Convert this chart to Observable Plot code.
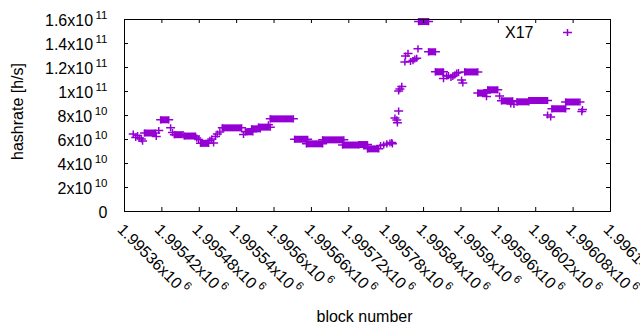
<!DOCTYPE html>
<html><head><meta charset="utf-8">
<script src="https://cdn.jsdelivr.net/npm/d3@7"></script>
<script src="https://cdn.jsdelivr.net/npm/@observablehq/plot@0.6"></script>
<style>
body{margin:0;background:#fff;}
svg{font-family:"Liberation Sans",Arial,sans-serif;}
</style></head><body><div id="chart"></div>
<script>
// Runs of consecutive blocks sharing one hashrate (values in units of 1e10 h/s)
const runStart = [1995392,1995418,1995440,1995456,1995482,1995517,1995554,1995564,1995575,1995594,1995633,1995652,1995678,1995710,1995736,1995750,1995832,1995848,1995859,1995906,1995927,1995943,1995965,1995990,1996009,1996046,1996068];
const runEnd   = [1995410,1995431,1995454,1995474,1995495,1995548,1995566,1995578,1995594,1995631,1995654,1995678,1995712,1995736,1995750,1995768,1995848,1995859,1995872,1995927,1995941,1995959,1995983,1996009,1996039,1996068,1996091];
const runValue = [6.54,7.64,6.40,6.29,5.68,6.97,6.64,6.89,7.03,7.72,6.02,5.64,5.97,5.54,5.58,5.22,15.83,13.31,11.64,11.63,9.87,10.14,9.22,9.14,9.25,8.56,9.125];

// Isolated points (values in units of 1e10 h/s)
const pointBlock = [1995374,1995378,1995381,1995384,1995387,1995389,1995411,1995415,1995434,1995437,1995476,1995479,1995497,1995500,1995503,1995506,1995509,1995513,1995551,1995591,1995771,1995776,1995781,1995786,1995789,1995790,1995794,1995797,1995798,1995800,1995800,1995802,1995805,1995810,1995811,1995815,1995819,1995823,1995826,1995829,1995831,1995872,1995877,1995880,1995884,1995887,1995890,1995893,1995896,1995901,1995903,1995941,1995962,1995980,1995985,1996039,1996044,1996094,1996095];
const pointValue = [6.46,6.17,6.33,6.12,6.04,5.87,6.25,6.75,6.97,6.58,6.12,6.00,5.92,6.04,5.71,6.25,6.46,6.63,6.42,7.22,5.50,5.54,5.63,5.71,5.75,5.64,7.79,7.63,7.39,8.37,10.04,10.21,10.42,12.46,12.96,13.17,12.50,12.58,12.71,12.77,13.56,11.08,11.29,11.33,11.17,11.25,11.375,11.54,11.58,10.96,10.71,9.58,9.625,8.96,8.92,8.04,7.875,8.33,8.5];

const xTickValues = [1995360,1995420,1995480,1995540,1995600,1995660,1995720,1995780,1995840,1995900,1995960,1996020,1996080,1996140];
const xTickLabels = ["1.99536x10^6","1.99542x10^6","1.99548x10^6","1.99554x10^6","1.9956x10^6","1.99566x10^6","1.99572x10^6","1.99578x10^6","1.99584x10^6","1.9959x10^6","1.99596x10^6","1.99602x10^6","1.99608x10^6","1.99614x10^6"];
const yTickValues = [0,2e10,4e10,6e10,8e10,1e11,1.2e11,1.4e11,1.6e11];
const yTickLabels = ["0","2x10^10","4x10^10","6x10^10","8x10^10","1x10^11","1.2x10^11","1.4x10^11","1.6x10^11"];
const seriesName = "X17";
const xLabel = "block number";
const yLabel = "hashrate [h/s]";

const color = "#9400d3";
const plus = {draw(ctx, size){ const r = Math.sqrt(size/Math.PI); const v = r*0.8;
  ctx.moveTo(-r,0); ctx.lineTo(r,0); ctx.moveTo(0,-v); ctx.lineTo(0,v); }};

const runs = runStart.map((s,i)=>({start:s, end:runEnd[i], value:runValue[i]*1e10}));
const pts = pointBlock.map((b,i)=>({block:b, value:pointValue[i]*1e10}));
const xt = xTickValues.map((v,i)=>({v, l:xTickLabels[i]}));
const yt = yTickValues.map((v,i)=>({v, l:yTickLabels[i]}));
const dotOpts = {symbol:plus, r:4.5, stroke:color, fill:"none", strokeWidth:1.5};

const W=640, H=330, mL=124, mR=30, mT=19, mB=119;
const fw = W-mL-mR, fh = H-mT-mB;

const chart = Plot.plot({
  width:W, height:H, marginLeft:mL, marginRight:mR, marginTop:mT, marginBottom:mB,
  style:{fontFamily:"'Liberation Sans', Arial, sans-serif", fontSize:"16px", background:"white", color:"black", overflow:"visible"},
  x:{domain:[1995360,1996140], axis:null},
  y:{domain:[0,1.6e11], axis:null},
  marks:[
    Plot.ruleY(runs,{y:"value", x1:"start", x2:"end", stroke:color, strokeWidth:7}),
    Plot.dot(runs,{x:"start", y:"value", ...dotOpts}),
    Plot.dot(runs,{x:"end", y:"value", ...dotOpts}),
    Plot.dot(pts,{x:"block", y:"value", ...dotOpts}),
    Plot.ruleX(xTickValues,{insetTop:fh-4, stroke:"black"}),
    Plot.ruleX(xTickValues,{insetBottom:fh-4, stroke:"black"}),
    Plot.ruleY(yTickValues,{insetRight:fw-4, stroke:"black"}),
    Plot.ruleY(yTickValues,{insetLeft:fw-4, stroke:"black"}),
    Plot.frame({stroke:"black", strokeWidth:1}),
    Plot.text(xt,{x:"v", text:"l", frameAnchor:"bottom", dy:11, dx:0, rotate:45, textAnchor:"start", lineAnchor:"top", fill:"black"}),
    Plot.text(yt,{y:"v", text:"l", frameAnchor:"left", dx:-17, dy:1.5, textAnchor:"end", fill:"black"}),
    Plot.text([yLabel],{frameAnchor:"left", dx:-107, dy:-4, rotate:-90, textAnchor:"middle", fill:"black"}),
    Plot.text([xLabel],{frameAnchor:"bottom", dx:-3, dy:110.5, textAnchor:"middle", lineAnchor:"bottom", fill:"black"}),
    Plot.text([seriesName],{frameAnchor:"top-right", dx:-77, dy:18, textAnchor:"end", lineAnchor:"bottom", fill:"black"}),
    Plot.dot([0],{frameAnchor:"top-right", dx:-43, dy:13, ...dotOpts})
  ]
});

const NS = "http://www.w3.org/2000/svg";
chart.querySelectorAll("text").forEach(t => {
  const s = t.textContent;
  if (!s.includes("^")) return;
  const [base, exp] = s.split("^");
  t.textContent = "";
  const a = document.createElementNS(NS,"tspan"); a.textContent = base;
  const b = document.createElementNS(NS,"tspan"); b.textContent = exp;
  b.setAttribute("dx","2.5"); b.setAttribute("dy","-7.5"); b.setAttribute("font-size","11.5");
  t.append(a,b);
});
document.getElementById("chart").append(chart);
</script></body></html>
